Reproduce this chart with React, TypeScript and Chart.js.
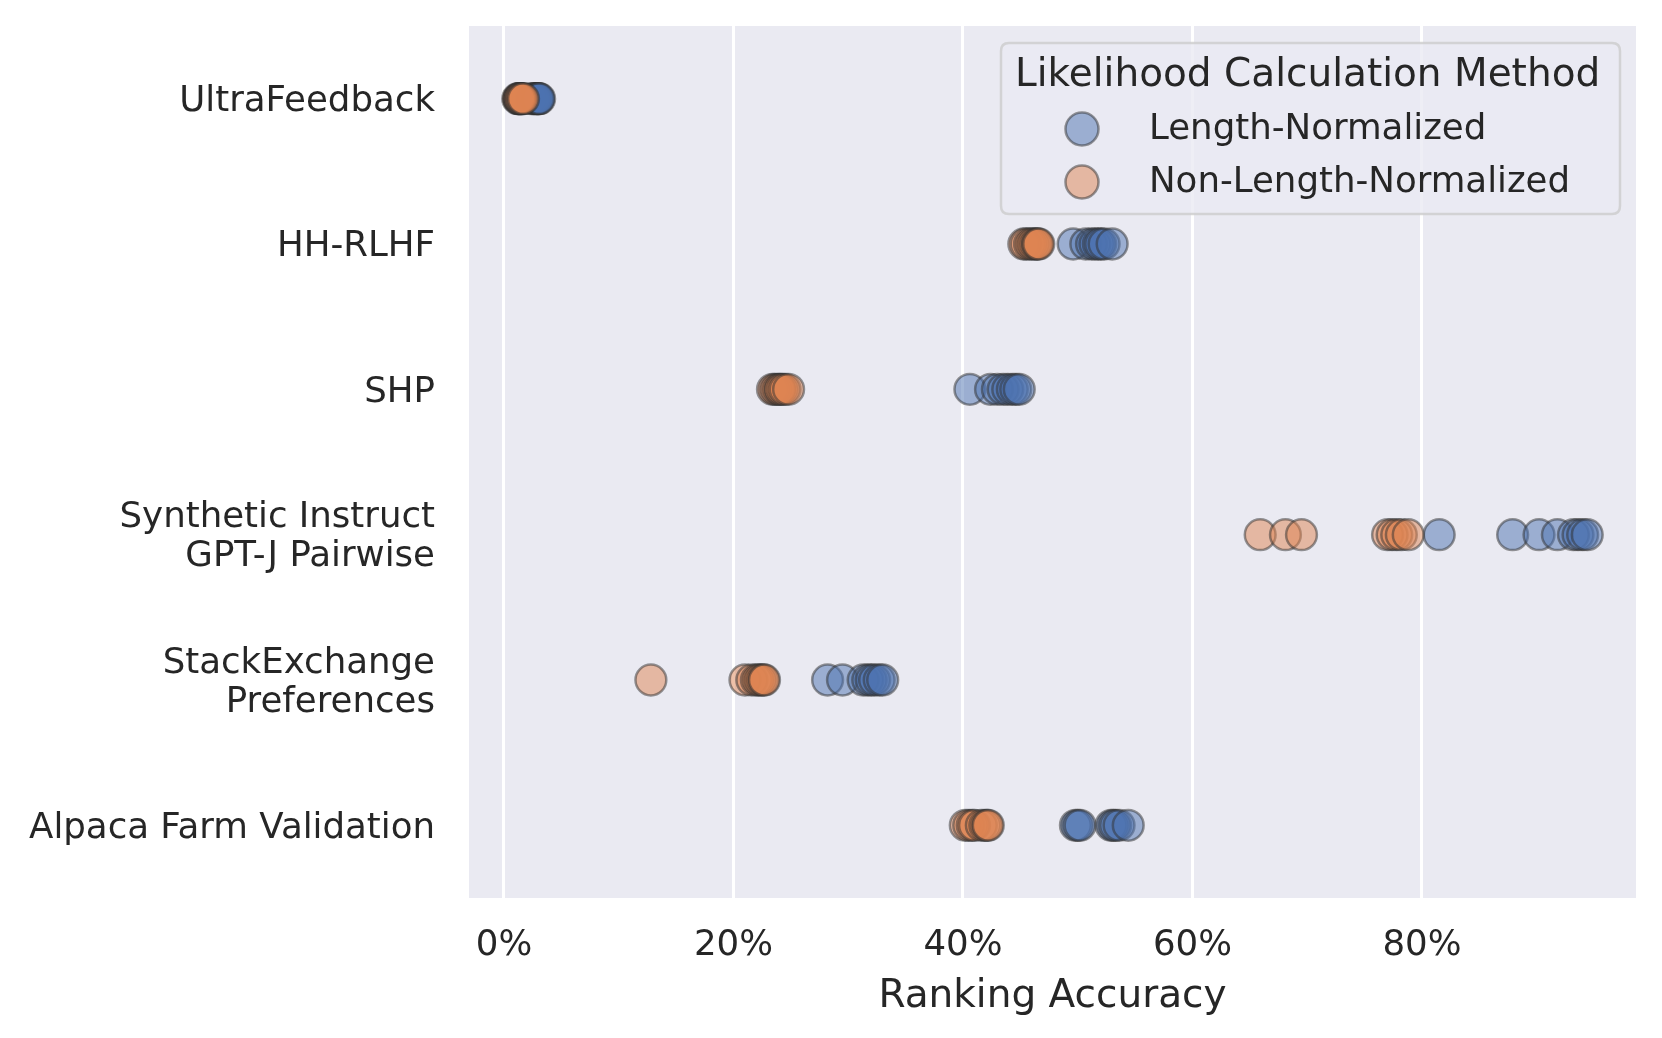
import React, { useEffect, useRef } from "react";
import { Chart, registerables } from "chart.js";

Chart.register(...registerables);

// ---- Data ----
const categories: (string | string[])[] = [
  "UltraFeedback",
  "HH-RLHF",
  "SHP",
  ["Synthetic Instruct", "GPT-J Pairwise"],
  ["StackExchange", "Preferences"],
  "Alpaca Farm Validation",
];

const seriesNames = ["Length-Normalized", "Non-Length-Normalized"];
const tickValues = [0, 20, 40, 60, 80];

// Length-Normalized (%)
const lnUltraFeedback = [2.4, 2.6, 2.7, 2.8, 2.9, 3.0, 3.0, 3.1];
const lnHHRLHF = [49.6, 50.7, 51.2, 51.5, 51.8, 52.0, 52.3, 53.0];
const lnSHP = [40.6, 42.4, 43.0, 43.5, 43.9, 44.3, 44.6, 44.9];
const lnSynthetic = [81.5, 87.9, 90.2, 91.8, 93.2, 93.6, 94.0, 94.4];
const lnStackExchange = [28.2, 29.5, 31.3, 31.7, 32.0, 32.3, 32.7, 33.0];
const lnAlpaca = [49.8, 50.0, 50.2, 52.9, 53.1, 53.3, 53.6, 54.4];

// Non-Length-Normalized (%)
const nlnUltraFeedback = [1.2, 1.3, 1.3, 1.4, 1.4, 1.5, 1.6, 1.7];
const nlnHHRLHF = [45.3, 45.5, 45.8, 46.0, 46.2, 46.4, 46.5, 46.6];
const nlnSHP = [23.4, 23.6, 23.8, 24.0, 24.1, 24.3, 24.5, 24.8];
const nlnSynthetic = [65.9, 68.1, 69.5, 77.0, 77.4, 77.8, 78.2, 78.8];
const nlnStackExchange = [12.8, 21.0, 21.6, 22.0, 22.2, 22.4, 22.6, 22.7];
const nlnAlpaca = [40.2, 40.5, 40.8, 41.0, 41.6, 41.9, 42.1, 42.2];

const lnByCategory = [lnUltraFeedback, lnHHRLHF, lnSHP, lnSynthetic, lnStackExchange, lnAlpaca];
const nlnByCategory = [nlnUltraFeedback, nlnHHRLHF, nlnSHP, nlnSynthetic, nlnStackExchange, nlnAlpaca];

// ---- Styles ----
const FONT = "'DejaVu Sans', 'Liberation Sans', sans-serif";
const TEXT = "#262626";
const BLUE_FILL = "rgba(76,114,176,0.5)";
const ORANGE_FILL = "rgba(221,132,82,0.5)";
const EDGE = "rgba(50,50,50,0.5)";
const PLOT_BG = "#EAEAF2";

function toPoints(groups: number[][]) {
  const pts: { x: number; y: number }[] = [];
  groups.forEach((vals, i) => vals.forEach((v) => pts.push({ x: v, y: i })));
  return pts;
}

const bgPlugin = {
  id: "plotBg",
  beforeDraw(chart: any) {
    const { ctx, chartArea } = chart;
    ctx.save();
    ctx.fillStyle = PLOT_BG;
    ctx.fillRect(chartArea.left, chartArea.top, chartArea.right - chartArea.left, chartArea.bottom - chartArea.top);
    ctx.restore();
  },
};

const legendPlugin = {
  id: "customLegend",
  afterDraw(chart: any) {
    const ctx = chart.ctx;
    const x0 = 1001, y0 = 43, x1 = 1620, y1 = 214, r = 8;
    ctx.save();
    ctx.beginPath();
    ctx.moveTo(x0 + r, y0);
    ctx.lineTo(x1 - r, y0);
    ctx.quadraticCurveTo(x1, y0, x1, y0 + r);
    ctx.lineTo(x1, y1 - r);
    ctx.quadraticCurveTo(x1, y1, x1 - r, y1);
    ctx.lineTo(x0 + r, y1);
    ctx.quadraticCurveTo(x0, y1, x0, y1 - r);
    ctx.lineTo(x0, y0 + r);
    ctx.quadraticCurveTo(x0, y0, x0 + r, y0);
    ctx.closePath();
    ctx.fillStyle = "rgba(234,234,242,0.8)";
    ctx.fill();
    ctx.strokeStyle = "rgba(204,204,204,0.8)";
    ctx.lineWidth = 2.5;
    ctx.stroke();

    ctx.fillStyle = TEXT;
    ctx.textBaseline = "middle";
    ctx.textAlign = "left";
    ctx.font = `39px ${FONT}`;
    ctx.fillText("Likelihood Calculation Method", 1015, 76);

    const fills = [BLUE_FILL, ORANGE_FILL];
    const ys = [129, 182];
    ctx.font = `35.6px ${FONT}`;
    seriesNames.forEach((name, i) => {
      ctx.beginPath();
      ctx.arc(1082, ys[i], 16.5, 0, Math.PI * 2);
      ctx.fillStyle = fills[i];
      ctx.fill();
      ctx.strokeStyle = EDGE;
      ctx.lineWidth = 2.5;
      ctx.stroke();
      ctx.fillStyle = TEXT;
      ctx.fillText(name, 1149, ys[i] + 1);
    });
    ctx.restore();
  },
};

export default function App() {
  const canvasRef = useRef<HTMLCanvasElement | null>(null);

  useEffect(() => {
    const canvas = canvasRef.current;
    if (!canvas) return;
    const chart = new Chart(canvas, {
      type: "scatter",
      data: {
        datasets: [
          {
            label: seriesNames[0],
            data: toPoints(lnByCategory),
            backgroundColor: BLUE_FILL,
            borderColor: EDGE,
            borderWidth: 2.5,
            pointRadius: 15.4,
            order: 1,
          },
          {
            label: seriesNames[1],
            data: toPoints(nlnByCategory),
            backgroundColor: ORANGE_FILL,
            borderColor: EDGE,
            borderWidth: 2.5,
            pointRadius: 15.4,
            order: 0,
          },
        ],
      },
      options: {
        animation: false,
        responsive: false,
        events: [],
        layout: { padding: { left: 0, right: 26, top: 26, bottom: 0 } },
        plugins: {
          legend: { display: false },
          tooltip: { enabled: false },
        },
        scales: {
          x: {
            type: "linear",
            min: -3.05,
            max: 98.65,
            afterBuildTicks: (scale: any) => {
              scale.ticks = tickValues.map((v) => ({ value: v }));
            },
            afterFit: (scale: any) => {
              scale.height = 140;
              scale.paddingLeft = 0;
              scale.paddingRight = 0;
            },
            grid: { color: "#FFFFFF", lineWidth: 3, drawTicks: false },
            border: { display: false },
            ticks: {
              color: TEXT,
              font: { family: FONT, size: 35.6, lineHeight: 1.2 },
              padding: 26,
              callback: (v: any) => `${v}%`,
            },
            title: {
              display: true,
              text: "Ranking Accuracy",
              color: TEXT,
              font: { family: FONT, size: 39, lineHeight: 1.2 },
              padding: { top: 0, bottom: 18 },
            },
          },
          y: {
            type: "linear",
            min: -0.5,
            max: categories.length - 0.5,
            reverse: true,
            afterBuildTicks: (scale: any) => {
              scale.ticks = categories.map((_, i) => ({ value: i }));
            },
            afterFit: (scale: any) => {
              scale.width = 469;
              scale.paddingTop = 0;
              scale.paddingBottom = 0;
            },
            grid: { display: false, drawTicks: false },
            border: { display: false },
            ticks: {
              color: TEXT,
              font: { family: FONT, size: 35.6, lineHeight: 1.1 },
              padding: 34,
              labelOffset: 3,
              callback: (v: any) => categories[Math.round(v)] as any,
            },
          },
        },
      },
      plugins: [bgPlugin, legendPlugin],
    } as any);
    return () => chart.destroy();
  }, []);

  return (
    <div style={{ position: "fixed", left: 0, top: 0, width: 1662, height: 1038, background: "#FFFFFF" }}>
      <canvas ref={canvasRef} width={1662} height={1038} style={{ width: 1662, height: 1038 }} />
    </div>
  );
}
